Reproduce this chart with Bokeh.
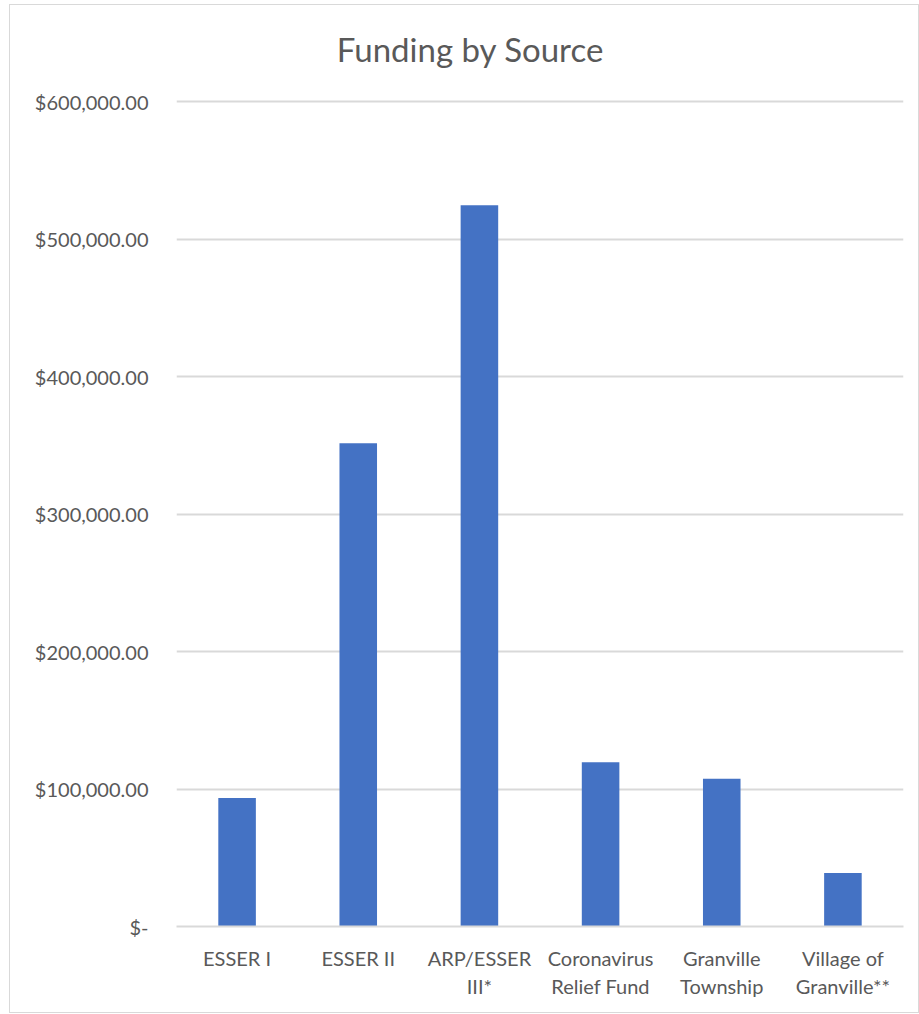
from bokeh.plotting import figure
from bokeh.models import NumeralTickFormatter, FixedTicker, Range1d, Label
from bokeh.embed import file_html
from bokeh.resources import INLINE

title_text = "Funding by Source"
categories = ["ESSER I", "ESSER II", "ARP/ESSER\nIII*", "Coronavirus\nRelief Fund",
              "Granville\nTownship", "Village of\nGranville**"]
amounts = [93500, 351500, 524500, 119500, 107500, 39000]
y_ticks = [0, 100000, 200000, 300000, 400000, 500000, 600000]

TEXT = "#595959"
GRID = "#D9D9D9"
BAR = "#4472C4"
FONT = "Lato"

# frame spans from the top of the chart box down to the baseline;
# the extra headroom above the $600,000 gridline holds the title
FRAME_TOP, GRID_TOP, BASE, TITLE_Y = 5, 101, 926, 48
ymax = y_ticks[-1]
per_px = ymax / (BASE - GRID_TOP)
y_end = ymax + (GRID_TOP - FRAME_TOP) * per_px
title_y = ymax + (GRID_TOP - TITLE_Y) * per_px

p = figure(x_range=categories, width=908, height=1007,
           output_backend="svg", toolbar_location=None,
           min_border_left=166, min_border_right=15,
           min_border_top=0, min_border_bottom=86)
p.margin = (5, 0, 0, 10)
p.styles = {"outline": "1.5px solid #D9D9D9"}

p.vbar(x=categories, top=amounts, width=0.31, color=BAR, line_color=None)

p.y_range = Range1d(0, y_end)
p.x_range.range_padding = 0
p.yaxis.ticker = FixedTicker(ticks=y_ticks)
p.yaxis.formatter = NumeralTickFormatter(format="$0,0.00")
p.yaxis.major_label_overrides = {0: "$-"}

title = Label(x=294, y=title_y, x_units="screen", y_units="data", text=title_text,
              text_font=FONT, text_font_size="33px", text_color=TEXT,
              text_align="center", text_baseline="middle")
p.add_layout(title)

for ax in (p.xaxis, p.yaxis):
    ax.major_label_text_font = FONT
    ax.major_label_text_font_size = "20px"
    ax.major_label_text_color = TEXT
    ax.major_tick_line_color = None
    ax.minor_tick_line_color = None

p.yaxis.axis_line_color = None
p.yaxis.major_label_standoff = 22
p.xaxis.axis_line_color = GRID
p.xaxis.axis_line_width = 2
p.xaxis.major_label_standoff = 13

p.xgrid.grid_line_color = None
p.ygrid.grid_line_color = GRID
p.ygrid.grid_line_width = 2
p.outline_line_color = None

open("out.html", "w").write(file_html(p, INLINE))
